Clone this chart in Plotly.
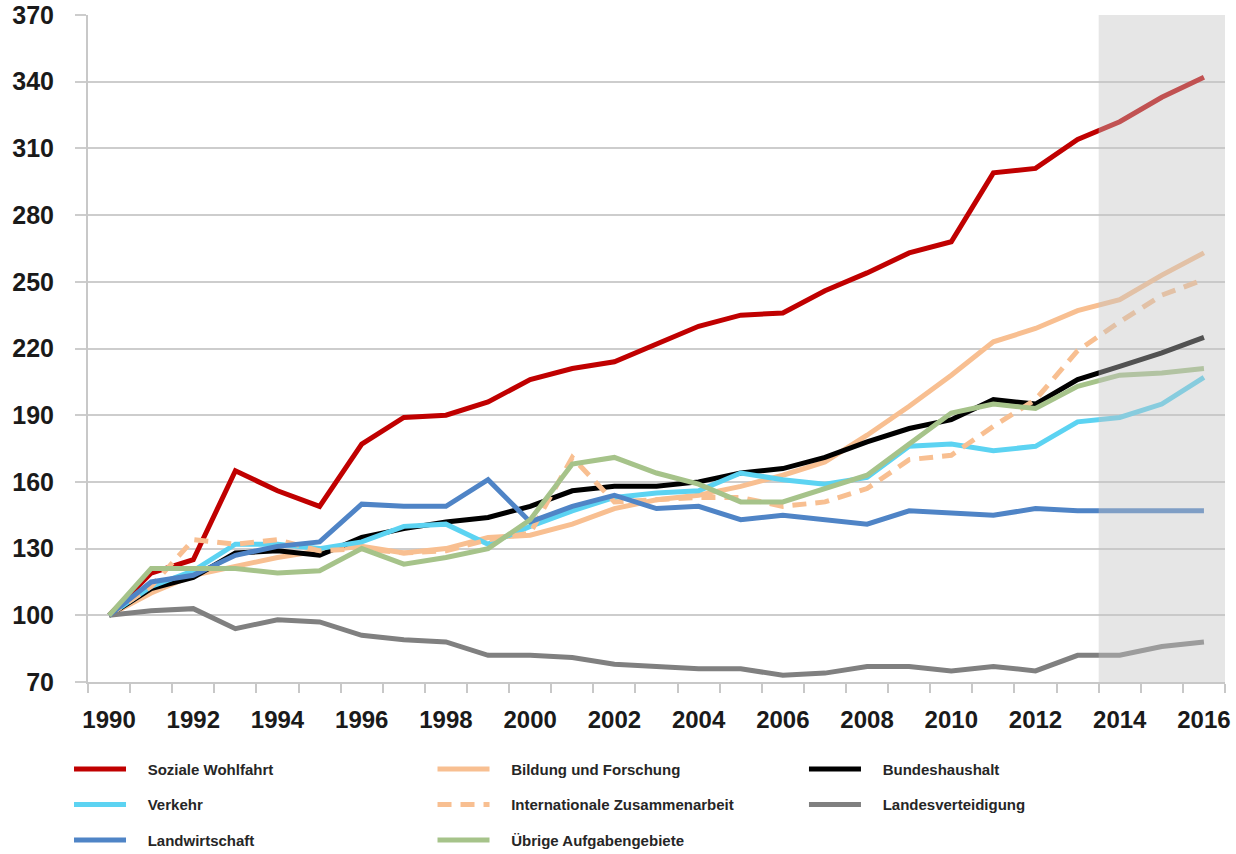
import plotly.graph_objects as go

years = list(range(1990, 2017))
projection_start = 2014

soziale_wohlfahrt = [100, 119, 125, 165, 156, 149, 177, 189, 190, 196, 206, 211, 214, 222, 230, 235, 236, 246, 254, 263, 268, 299, 301, 314, 322, 333, 342]
bildung_forschung = [100, 110, 118, 122, 126, 129, 131, 128, 130, 135, 136, 141, 148, 152, 154, 158, 163, 169, 181, 194, 208, 223, 229, 237, 242, 253, 263]
bundeshaushalt = [100, 112, 117, 128, 129, 127, 135, 139, 142, 144, 149, 156, 158, 158, 160, 164, 166, 171, 178, 184, 188, 197, 195, 206, 212, 218, 225]
verkehr = [100, 113, 120, 132, 132, 130, 133, 140, 141, 132, 140, 147, 153, 155, 156, 164, 161, 159, 162, 176, 177, 174, 176, 187, 189, 195, 207]
international = [100, 113, 134, 132, 134, 129, 130, 128, 129, 134, 137, 171, 151, 152, 153, 153, 149, 151, 157, 170, 172, 185, 197, 219, 232, 244, 251]
landesverteidigung = [100, 102, 103, 94, 98, 97, 91, 89, 88, 82, 82, 81, 78, 77, 76, 76, 73, 74, 77, 77, 75, 77, 75, 82, 82, 86, 88]
landwirtschaft = [100, 115, 118, 127, 131, 133, 150, 149, 149, 161, 142, 149, 154, 148, 149, 143, 145, 143, 141, 147, 146, 145, 148, 147, 147, 147, 147]
uebrige = [100, 121, 121, 121, 119, 120, 130, 123, 126, 130, 143, 168, 171, 164, 159, 151, 151, 157, 163, 177, 191, 195, 193, 203, 208, 209, 211]

y_ticks = list(range(70, 371, 30))
x_labels = years[::2]

# (name, values, color, dash, legend)
series = [
    ("Soziale Wohlfahrt", soziale_wohlfahrt, "#C00000", "solid", "legend"),
    ("Bildung und Forschung", bildung_forschung, "#F8BF91", "solid", "legend2"),
    ("Bundeshaushalt", bundeshaushalt, "#000000", "solid", "legend3"),
    ("Verkehr", verkehr, "#5CD3F2", "solid", "legend"),
    ("Internationale Zusammenarbeit", international, "#F8BF91", "14px,9px", "legend2"),
    ("Landesverteidigung", landesverteidigung, "#808080", "solid", "legend3"),
    ("Landwirtschaft", landwirtschaft, "#4F84C6", "solid", "legend"),
    ("Übrige Aufgabengebiete", uebrige, "#A6C38A", "solid", "legend2"),
]

pad = "\u00a0" * 4
fig = go.Figure()
for name, vals, color, dash, leg in series:
    fig.add_trace(go.Scatter(
        x=years, y=vals, mode="lines", name=pad + name,
        line=dict(color=color, width=5, dash=dash),
        legend=leg, legendgroup=name,
    ))

font_family = "Liberation Sans, Arial, sans-serif"
legend_common = dict(
    orientation="v", yanchor="top", xanchor="left",
    bgcolor="rgba(0,0,0,0)", tracegroupgap=13, itemwidth=52,
    font=dict(family=font_family, size=15, color="#262626", weight="bold"),
    traceorder="grouped",
)

fig.add_shape(
    type="rect", xref="x", yref="paper",
    x0=projection_start - 0.5, x1=years[-1] + 0.5, y0=0, y1=1,
    fillcolor="rgba(195,195,195,0.42)", line=dict(width=0), layer="above",
)

fig.update_layout(
    width=1236, height=854,
    margin=dict(l=88, r=11, t=15, b=172, autoexpand=False),
    plot_bgcolor="white", paper_bgcolor="white",
    font=dict(family=font_family, color="#1a1a1a"),
    legend=dict(x=-0.0167, y=-0.106, **legend_common),
    legend2=dict(x=0.303, y=-0.106, **legend_common),
    legend3=dict(x=0.6297, y=-0.106, **legend_common),
    xaxis=dict(
        range=[years[0] - 0.5, years[-1] + 0.5],
        tickmode="array", tickvals=x_labels, ticktext=[str(v) for v in x_labels],
        ticks="", showgrid=False, zeroline=False,
        showline=True, linecolor="#C8C8C8", linewidth=2,
        tickfont=dict(family=font_family, size=24, color="#1a1a1a", weight="bold"),
        ticklabelstandoff=15,
        minor=dict(
            tickmode="array",
            tickvals=[v - 0.5 for v in years] + [years[-1] + 0.5],
            ticks="outside", ticklen=9, tickwidth=2, tickcolor="#C8C8C8", showgrid=False,
        ),
    ),
    yaxis=dict(
        range=[y_ticks[0], y_ticks[-1]],
        tickmode="array", tickvals=y_ticks,
        showgrid=True, gridcolor="#CDCDCD", gridwidth=2, zeroline=False,
        ticks="outside", ticklen=11, tickwidth=2, tickcolor="#CDCDCD",
        showline=True, linecolor="#C8C8C8", linewidth=2,
        tickfont=dict(family=font_family, size=25, color="#1a1a1a", weight="bold"),
        ticklabelstandoff=16,
    ),
)

fig.write_html(
    "out.html",
    config={"displayModeBar": False},
    post_script="document.body.style.margin='0';document.body.style.padding='0';document.body.style.overflow='hidden';",
)
